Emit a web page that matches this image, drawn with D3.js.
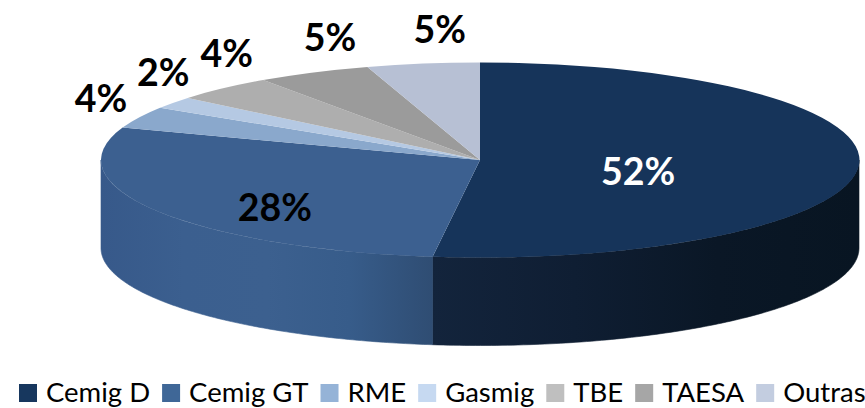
<!DOCTYPE html>
<html>
<head>
<meta charset="utf-8">
<script src="https://cdn.jsdelivr.net/npm/d3@7"></script>
<style>
  html, body { margin: 0; padding: 0; background: #fff; overflow: hidden; }
  text { font-family: Lato, "Open Sans", sans-serif; }
  .pct { font-weight: 700; font-size: 37.5px; text-anchor: middle; dominant-baseline: central; }
  .leg { font-size: 27.5px; fill: #000; }
</style>
</head>
<body>
<div id="chart"></div>
<script>
const categories = ['Cemig D', 'Cemig GT', 'RME', 'Gasmig', 'TBE', 'TAESA', 'Outras'];
const shares = [52, 28.4, 3.6, 2, 4.3, 4.9, 4.8];
const topColors = ['#16345a', '#3c6090', '#8aa8cc', '#b5c9e3', '#aeaeae', '#9b9b9b', '#b7c0d4'];
const legendColors = ['#17375e', '#3f6797', '#95b3d7', '#c6d9f1', '#bfbfbf', '#a6a6a6', '#c3cde0'];
const labelColors = ['#fff', '#000', '#000', '#000', '#000', '#000', '#000'];
// label anchors in pie units (1 = rim of the ellipse)
const labelAnchors = [[0.417, 0.105], [-0.541, 0.48], [-1.0, -0.646], [-0.836, -0.903], [-0.668, -1.1], [-0.396, -1.27], [-0.106, -1.35]];
// side wall shading, left to right
const wallStops = [
  ['#13243c', '#0f1e33', '#0a1726', '#081522'],
  ['#37598a', '#3b5f8f', '#3c608f', '#375c8a', '#2f4d73']
];

const width = 865, height = 408;
const rx = 379, ry = 97.5, depth = 88;
const x = d3.scaleLinear().domain([-1, 1]).range([480 - rx, 480 + rx]);
const y = d3.scaleLinear().domain([-1, 1]).range([160 - ry, 160 + ry]);

const svg = d3.select('#chart').append('svg').attr('width', width).attr('height', height);

const slices = d3.pie().sort(null)(shares);

// side wall, only the front half of the rim shows
const wall = d3.area()
  .x(a => x(Math.sin(a)))
  .y0(a => y(-Math.cos(a)))
  .y1(a => y(-Math.cos(a)) + depth);

const defs = svg.append('defs');
const walls = slices.slice(0, 2).map((s, i) => {
  const from = Math.max(s.startAngle, Math.PI / 2);
  const to = Math.min(s.endAngle, Math.PI * 1.5);
  const angles = d3.range(0, 121).map(k => from + (to - from) * k / 120);
  const xs = d3.extent(angles, a => x(Math.sin(a)));
  const grad = defs.append('linearGradient')
    .attr('id', `wall-${i}`)
    .attr('gradientUnits', 'userSpaceOnUse')
    .attr('x1', xs[0]).attr('x2', xs[1]).attr('y1', 0).attr('y2', 0);
  wallStops[i].forEach((c, k) => {
    grad.append('stop').attr('offset', k / (wallStops[i].length - 1)).attr('stop-color', c);
  });
  return { angles, i };
});

// stroke closes the hairline between the two wall pieces
svg.append('g').selectAll('path')
  .data(walls)
  .join('path')
  .attr('fill', d => `url(#wall-${d.i})`)
  .attr('stroke', d => `url(#wall-${d.i})`)
  .attr('stroke-width', 0.6)
  .attr('d', d => wall(d.angles));

// top face: a unit pie squashed into the ellipse
const arc = d3.arc().innerRadius(0).outerRadius(1);
svg.append('g')
  .attr('transform', `translate(${x(0)},${y(0)}) scale(${rx},${ry})`)
  .selectAll('path')
  .data(slices)
  .join('path')
  .attr('fill', (d, i) => topColors[i])
  .attr('d', arc);

const fmt = d3.format('.0f');
svg.append('g').selectAll('text')
  .data(slices)
  .join('text')
  .attr('class', 'pct')
  .attr('x', (d, i) => x(labelAnchors[i][0]))
  .attr('y', (d, i) => y(labelAnchors[i][1]))
  .attr('fill', (d, i) => labelColors[i])
  .text(d => fmt(d.value) + '%');

// legend runs left to right, each entry as wide as its text
const legend = svg.append('g');
let cursor = 19;
categories.forEach((name, i) => {
  const item = legend.append('g');
  item.append('rect')
    .attr('x', cursor).attr('y', 384).attr('width', 18).attr('height', 18)
    .attr('fill', legendColors[i]);
  const label = item.append('text')
    .attr('class', 'leg')
    .attr('x', cursor + 27).attr('y', 402)
    .text(name);
  cursor += 27 + label.node().getComputedTextLength() + 12;
});
</script>
</body>
</html>
